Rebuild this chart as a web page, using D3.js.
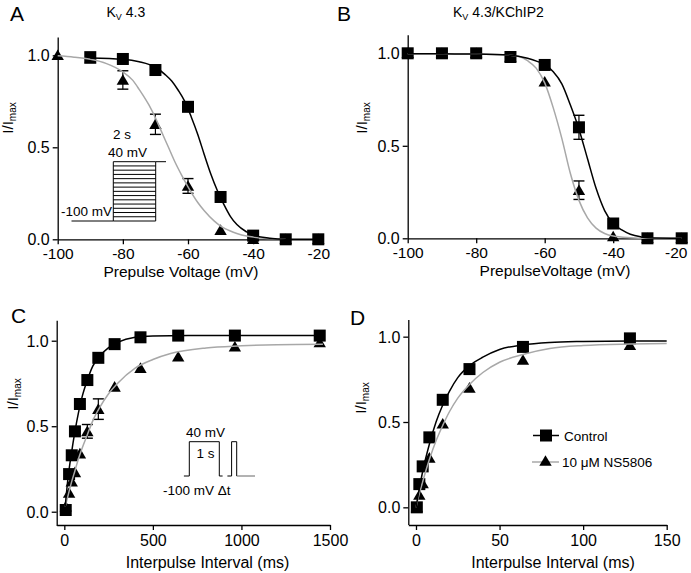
<!DOCTYPE html>
<html>
<head>
<meta charset="utf-8">
<script src="https://cdn.jsdelivr.net/npm/d3@7/dist/d3.min.js"></script>
<style>
  html, body { margin: 0; padding: 0; background: #fff; }
  svg { display: block; }
</style>
</head>
<body>
<svg id="chart" width="691" height="573"></svg>
<script>
// ---------------- DATA ----------------
// Panel A  (Kv4.3) steady-state inactivation
const voltages      = [-100, -90, -80, -70, -60, -50, -40, -30, -20];
const aControlV     = [-90, -80, -70, -60, -50, -40, -30, -20];
const aControl      = [0.99, 0.98, 0.92, 0.72, 0.23, 0.02, 0.0, 0.0];
const aNS           = [1.0, 0.98, 0.866, 0.625, 0.29, 0.05, 0.0, 0.0, 0.0];
const aNSErr        = [0, 0, 0.05, 0.055, 0.04, 0, 0, 0, 0];
// fitted curves [V, I/Imax]
const aControlFit = [[-90,0.985],[-80,0.978],[-75,0.965],[-70,0.935],[-67,0.895],[-65,0.86],[-63,0.81],[-61,0.75],[-59,0.665],[-57,0.57],[-55,0.46],[-53,0.355],[-51,0.265],[-49,0.19],[-47,0.125],[-45,0.08],[-42,0.04],[-40,0.022],[-35,0.006],[-30,0.0],[-20,0.0]];
const aNSFit = [[-100,0.997],[-95,0.99],[-90,0.978],[-85,0.955],[-80,0.91],[-77,0.865],[-75,0.815],[-72,0.73],[-70,0.66],[-68,0.58],[-66,0.5],[-64,0.42],[-62,0.35],[-60,0.285],[-57,0.2],[-55,0.155],[-52,0.1],[-50,0.072],[-47,0.045],[-45,0.032],[-42,0.018],[-40,0.012],[-35,0.004],[-30,0.0]];

// Panel B  (Kv4.3/KChIP2)
const bControl    = [1.0, 1.0, 1.0, 0.98, 0.937, 0.60, 0.08, 0.0, 0.0];
const bControlErr = [0, 0, 0, 0, 0, 0.065, 0, 0, 0];
const bNS         = [1.0, 1.0, 1.0, 0.98, 0.846, 0.26, 0.01, 0.0, 0.0];
const bNSErr      = [0, 0, 0, 0, 0, 0.05, 0, 0, 0];
const bControlFit = [[-100,0.997],[-90,0.997],[-80,0.996],[-70,0.99],[-65,0.973],[-62,0.955],[-60,0.94],[-57.5,0.9],[-55,0.835],[-52.5,0.72],[-50,0.59],[-47.5,0.43],[-45,0.27],[-42.5,0.15],[-40,0.08],[-37.5,0.045],[-35,0.022],[-32,0.008],[-30,0.003],[-20,0.0]];
const bNSFit = [[-100,0.997],[-90,0.997],[-80,0.996],[-70,0.99],[-67,0.98],[-65,0.96],[-62.5,0.92],[-60,0.84],[-57.5,0.705],[-55,0.54],[-52.5,0.35],[-50,0.205],[-47.5,0.11],[-45,0.055],[-42.5,0.026],[-40,0.012],[-35,0.003],[-30,0.0],[-20,0.0]];

// Panel C  (Kv4.3 recovery from inactivation)
const cInterval = [8, 27, 42, 60, 88, 130, 192, 284, 430, 643, 963, 1442];
const cControl  = [0.01, 0.22, 0.33, 0.47, 0.63, 0.77, 0.90, 0.98, 1.02, 1.03, 1.03, 1.03];
const cNS       = [0.03, 0.11, 0.175, 0.23, 0.34, 0.47, 0.60, 0.73, 0.84, 0.906, 0.965, 0.99];
const cNSErr    = [0, 0, 0, 0, 0, 0.04, 0.06, 0, 0, 0, 0, 0];
const cControlFit = [[5,0.03],[20,0.19],[40,0.34],[60,0.47],[80,0.58],[100,0.67],[130,0.77],[160,0.85],[200,0.91],[250,0.96],[300,0.99],[400,1.02],[500,1.027],[700,1.03],[1000,1.03],[1460,1.03]];
const cNSFit = [[5,0.03],[20,0.09],[40,0.17],[60,0.24],[80,0.31],[100,0.37],[130,0.45],[160,0.53],[200,0.61],[250,0.69],[300,0.75],[400,0.84],[500,0.89],[600,0.925],[800,0.958],[1000,0.97],[1200,0.977],[1460,0.98]];

// Panel D  (Kv4.3/KChIP2 recovery)
const dInterval = [0.5, 2, 4, 8, 16, 32, 64, 128];
const dControl  = [0.0, 0.136, 0.24, 0.41, 0.63, 0.81, 0.94, 0.99];
const dNS       = [0.0, 0.072, 0.14, 0.29, 0.49, 0.70, 0.863, 0.95];
const dControlFit = [[0,0],[2,0.11],[4,0.21],[8,0.37],[12,0.5],[16,0.6],[20,0.68],[25,0.76],[32,0.83],[40,0.88],[50,0.925],[64,0.952],[80,0.966],[100,0.972],[128,0.975],[150,0.975]];
const dNSFit = [[0,0],[2,0.08],[4,0.15],[8,0.28],[12,0.39],[16,0.48],[20,0.56],[25,0.64],[32,0.72],[40,0.79],[50,0.85],[64,0.895],[80,0.93],[100,0.948],[128,0.957],[150,0.96]];

// tick values
const voltTicks = [-100, -80, -60, -40, -20];
const iTicks    = [0, 0.5, 1.0];
const cTicks    = [0, 500, 1000, 1500];
const dTicks    = [0, 50, 100, 150];

// inset protocols
const insetASteps = [-100, -90, -80, -70, -60, -50, -40, -30, -20, -10, 0, 10, 20, 30, 40]; // mV
const insetCPulse1 = [[-0.18,-100],[0,-100],[0,40],[1,40],[1,-100],[1.11,-100]];
const insetCPulse2 = [[1.27,-100],[1.41,-100],[1.41,40],[1.58,40],[1.58,-100]];
const insetCTail   = [[1.58,-100],[2.19,-100]];

// ---------------- DRAWING ----------------
const FONT = "'Liberation Sans', Arial, Helvetica, sans-serif";
const GRAY = "#a8a8a8";
const svg = d3.select("#chart");

function makePanel(cfg) {
  const g = svg.append("g");
  const x = d3.scaleLinear().domain(cfg.xd).range(cfg.xr);
  const y = d3.scaleLinear().domain(cfg.yd).range(cfg.yr);

  const xa = g.append("g").attr("transform", `translate(0,${cfg.xAxisY})`)
    .call(d3.axisBottom(x).tickValues(cfg.xticks).tickSize(5).tickSizeOuter(0).tickPadding(cfg.xPad).tickFormat(d => String(d)));
  const ya = g.append("g").attr("transform", `translate(${cfg.xr[0]},0)`)
    .call(d3.axisLeft(y).tickValues(iTicks).tickSize(5).tickSizeOuter(0).tickPadding(3).tickFormat(d3.format(".1f")));
  [xa, ya].forEach(a => {
    a.selectAll("path,line").attr("stroke", "#000").attr("stroke-width", 1.3);
    a.selectAll("text").attr("font-family", FONT).attr("font-size", 16).attr("fill", "#000");
  });
  xa.selectAll("text").attr("font-size", cfg.xTickSize);
  ya.selectAll("text").attr("dy", "0.35em");
  if (cfg.lastLabelShift) {
    xa.selectAll(".tick text").filter((d, i, n) => i === n.length - 1).attr("dx", cfg.lastLabelShift);
  }

  // x title
  g.append("text").attr("x", cfg.xTitleX).attr("y", cfg.xTitleY).attr("text-anchor", "middle")
    .attr("font-family", FONT).attr("font-size", cfg.xTitleSize).text(cfg.xTitle);
  // y title
  const yt = g.append("text").attr("transform", `translate(${cfg.yTitleX},${cfg.yTitleY}) rotate(-90)`)
    .attr("text-anchor", "middle").attr("font-family", FONT).attr("font-size", 15);
  yt.append("tspan").text("I/I");
  yt.append("tspan").attr("font-size", 10).attr("dy", 3).text("max");
  // panel label
  g.append("text").attr("x", cfg.labelX).attr("y", cfg.labelY).attr("font-family", FONT)
    .attr("font-size", 21).text(cfg.label);
  return {g, x, y};
}

function errorBars(p, xs, ys, es) {
  xs.forEach((xv, i) => {
    const e = es[i];
    if (!e) return;
    const cx = p.x(xv), y1 = p.y(ys[i] + e), y2 = p.y(ys[i] - e);
    p.g.append("line").attr("x1", cx).attr("x2", cx).attr("y1", y1).attr("y2", y2).attr("stroke", "#000").attr("stroke-width", 1.2);
    [y1, y2].forEach(yy => p.g.append("line").attr("x1", cx - 5.5).attr("x2", cx + 5.5).attr("y1", yy).attr("y2", yy).attr("stroke", "#000").attr("stroke-width", 1.4));
  });
}
const TRI = "M0,-5.8L6.2,4.8L-6.2,4.8Z";
function triangles(p, xs, ys) {
  xs.forEach((xv, i) => p.g.append("path").attr("d", TRI)
    .attr("transform", `translate(${p.x(xv)},${p.y(ys[i])})`).attr("fill", "#000"));
}
function squares(p, xs, ys) {
  xs.forEach((xv, i) => p.g.append("rect").attr("x", p.x(xv) - 6).attr("y", p.y(ys[i]) - 6)
    .attr("width", 12).attr("height", 12).attr("fill", "#000"));
}
function fit(p, pts, color) {
  const line = d3.line().x(d => p.x(d[0])).y(d => p.y(d[1])).curve(d3.curveMonotoneX);
  p.g.append("path").attr("d", line(pts)).attr("fill", "none").attr("stroke", color).attr("stroke-width", 1.5);
}

// ---- Panel A ----
const A = makePanel({xd:[-100,-20], xr:[57.7,318.3], yd:[0,1.1], yr:[239.3,36.9], xAxisY:239.3,
  xticks: voltTicks, xPad:3.5, xTickSize:15.5, xTitle:"Prepulse Voltage (mV)", xTitleX:181, xTitleY:276.5, xTitleSize:15.5,
  yTitleX:13, yTitleY:118, label:"A", labelX:10, labelY:21});
errorBars(A, voltages, aNS, aNSErr);
triangles(A, voltages, aNS);
squares(A, aControlV, aControl);
fit(A, aNSFit, GRAY);
fit(A, aControlFit, "#000");
// title
const tA = A.g.append("text").attr("x", 106.5).attr("y", 17).attr("font-family", FONT).attr("font-size", 14);
tA.append("tspan").text("K");
tA.append("tspan").attr("font-size", 9).attr("dy", 3).text("V");
tA.append("tspan").attr("dy", -3).text(" 4.3");
// inset A
{
  const ix = d3.scaleLinear().domain([0, 1]).range([113.3, 155.7]);
  const iv = d3.scaleLinear().domain([-100, 40]).range([221, 161.7]);
  const ig = A.g.append("g").attr("stroke", "#000").attr("stroke-width", 1).attr("fill", "none");
  insetASteps.forEach(v => ig.append("line").attr("x1", ix(0)).attr("x2", ix(1)).attr("y1", iv(v)).attr("y2", iv(v)));
  ig.append("line").attr("x1", 71.5).attr("x2", ix(0)).attr("y1", iv(-100)).attr("y2", iv(-100));
  ig.append("line").attr("x1", ix(1)).attr("x2", 166).attr("y1", iv(40)).attr("y2", iv(40));
  ig.append("line").attr("x1", ix(0)).attr("x2", ix(0)).attr("y1", iv(-100)).attr("y2", iv(40));
  ig.append("line").attr("x1", ix(1)).attr("x2", ix(1)).attr("y1", iv(-100)).attr("y2", iv(40));
  A.g.append("text").attr("x", 113).attr("y", 139).attr("font-family", FONT).attr("font-size", 13.5).text("2 s");
  A.g.append("text").attr("x", 108).attr("y", 157).attr("font-family", FONT).attr("font-size", 13.5).text("40 mV");
  A.g.append("text").attr("x", 61).attr("y", 216).attr("font-family", FONT).attr("font-size", 13.5).text("-100 mV");
}

// ---- Panel B ----
const B = makePanel({xd:[-100,-20], xr:[407.7,681.7], yd:[0,1.1], yr:[238.3,34.8], xAxisY:238.3,
  xticks: voltTicks, xPad:3.5, xTickSize:15.5, xTitle:"PrepulseVoltage (mV)", xTitleX:555, xTitleY:275.5, xTitleSize:15.5,
  yTitleX:367, yTitleY:118, label:"B", labelX:337, labelY:21, lastLabelShift:-6});
errorBars(B, voltages, bNS, bNSErr);
errorBars(B, voltages, bControl, bControlErr);
triangles(B, voltages, bNS);
squares(B, voltages, bControl);
fit(B, bNSFit, GRAY);
fit(B, bControlFit, "#000");
const tB = B.g.append("text").attr("x", 453).attr("y", 17).attr("font-family", FONT).attr("font-size", 14);
tB.append("tspan").text("K");
tB.append("tspan").attr("font-size", 9).attr("dy", 3).text("V");
tB.append("tspan").attr("dy", -3).text(" 4.3/KChIP2");

// ---- Panel C ----
const C = makePanel({xd:[-43,1500], xr:[56.7,330], yd:[-0.08,1.12], yr:[525.4,320.2], xAxisY:525,
  xticks: cTicks, xPad:4.5, xTickSize:16, xTitle:"Interpulse Interval  (ms)", xTitleX:207.5, xTitleY:567.5, xTitleSize:16,
  yTitleX:18, yTitleY:394, label:"C", labelX:11, labelY:323});
errorBars(C, cInterval, cNS, cNSErr);
triangles(C, cInterval, cNS);
squares(C, cInterval, cControl);
fit(C, cNSFit, GRAY);
fit(C, cControlFit, "#000");
{
  const it = d3.scaleLinear().domain([0, 1]).range([189.3, 219.3]);
  const iv = d3.scaleLinear().domain([-100, 40]).range([476, 441.7]);
  const l = d3.line().x(d => it(d[0])).y(d => iv(d[1]));
  C.g.append("path").attr("d", l(insetCPulse1)).attr("fill", "none").attr("stroke", "#000").attr("stroke-width", 1);
  C.g.append("path").attr("d", l(insetCPulse2)).attr("fill", "none").attr("stroke", "#000").attr("stroke-width", 1);
  C.g.append("path").attr("d", l(insetCTail)).attr("fill", "none").attr("stroke", "#666").attr("stroke-width", 1);
  C.g.append("text").attr("x", 186).attr("y", 437).attr("font-family", FONT).attr("font-size", 13.5).text("40 mV");
  C.g.append("text").attr("x", 196.5).attr("y", 458).attr("font-family", FONT).attr("font-size", 13.5).text("1 s");
  C.g.append("text").attr("x", 163).attr("y", 495).attr("font-family", FONT).attr("font-size", 13.5).text("-100 mV \u0394t");
}

// ---- Panel D ----
const D = makePanel({xd:[-4.6,150], xr:[408.3,666.7], yd:[-0.1,1.1], yr:[524.4,319.6], xAxisY:525,
  xticks: dTicks, xPad:4.5, xTickSize:16, xTitle:"Interpulse Interval  (ms)", xTitleX:553, xTitleY:567.5, xTitleSize:16,
  yTitleX:366, yTitleY:398, label:"D", labelX:350, labelY:325});
triangles(D, dInterval, dNS);
squares(D, dInterval, dControl);
fit(D, dNSFit, GRAY);
fit(D, dControlFit, "#000");
// legend
{
  const lg = D.g.append("g");
  lg.append("line").attr("x1", 533).attr("x2", 559).attr("y1", 435.5).attr("y2", 435.5).attr("stroke", "#000").attr("stroke-width", 1.5);
  lg.append("rect").attr("x", 540).attr("y", 429.5).attr("width", 12).attr("height", 12).attr("fill", "#000");
  lg.append("text").attr("x", 564).attr("y", 440.5).attr("font-family", FONT).attr("font-size", 13.5).text("Control");
  lg.append("line").attr("x1", 532).attr("x2", 559).attr("y1", 462).attr("y2", 462).attr("stroke", GRAY).attr("stroke-width", 1.5);
  lg.append("path").attr("d", TRI).attr("transform", "translate(545.5,461)").attr("fill", "#000");
  lg.append("text").attr("x", 562).attr("y", 467).attr("font-family", FONT).attr("font-size", 13.5).text("10 \u03bcM NS5806");
}
</script>
</body>
</html>
